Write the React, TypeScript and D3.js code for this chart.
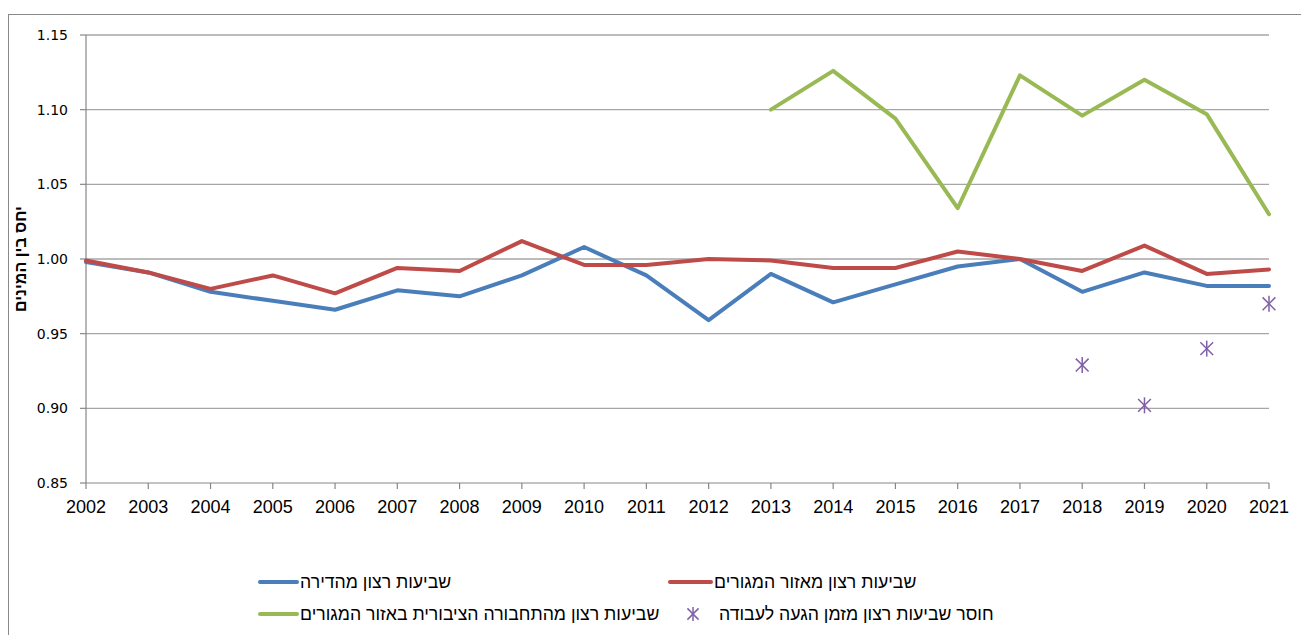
import React from 'react';
import * as d3 from 'd3';

const years = ['2002', '2003', '2004', '2005', '2006', '2007', '2008', '2009', '2010', '2011',
    '2012', '2013', '2014', '2015', '2016', '2017', '2018', '2019', '2020', '2021'];

// שביעות רצון מהדירה
const dwellingValues = [0.998, 0.991, 0.978, 0.972, 0.966, 0.979, 0.975, 0.989, 1.008, 0.989,
    0.959, 0.990, 0.971, 0.983, 0.995, 1.000, 0.978, 0.991, 0.982, 0.982];
// שביעות רצון מאזור המגורים
const areaValues = [0.999, 0.991, 0.980, 0.989, 0.977, 0.994, 0.992, 1.012, 0.996, 0.996,
    1.000, 0.999, 0.994, 0.994, 1.005, 1.000, 0.992, 1.009, 0.990, 0.993];
// שביעות רצון מהתחבורה הציבורית באזור המגורים (2013 onwards)
const transitYears = ['2013', '2014', '2015', '2016', '2017', '2018', '2019', '2020', '2021'];
const transitValues = [1.100, 1.126, 1.094, 1.034, 1.123, 1.096, 1.120, 1.097, 1.030];
// חוסר שביעות רצון מזמן הגעה לעבודה
const commuteYears = ['2018', '2019', '2020', '2021'];
const commuteValues = [0.929, 0.902, 0.940, 0.970];

const yTicks = [0.85, 0.90, 0.95, 1.00, 1.05, 1.10, 1.15];

const W = 1309, H = 635;
const margin = { left: 86, right: 1269, top: 35, bottom: 483 };

const BLUE = '#4a7ebb';
const RED = '#be4b48';
const GREEN = '#98b954';
const PURPLE = '#7f60a8';

const Star = ({ cx, cy, r = 8 }: { cx: number; cy: number; r?: number }) => {
    const d = r * 0.8;
    return (
        <g stroke={PURPLE} strokeWidth={1.5}>
            <line x1={cx - d} y1={cy - d} x2={cx + d} y2={cy + d} />
            <line x1={cx - d} y1={cy + d} x2={cx + d} y2={cy - d} />
            <line x1={cx} y1={cy - r} x2={cx} y2={cy + r} />
        </g>
    );
};

const App = () => {
    const x = d3.scalePoint<string>().domain(years).range([margin.left, margin.right]);
    const y = d3.scaleLinear().domain([0.85, 1.15]).range([margin.bottom, margin.top]);

    const line = d3.line<[string, number]>()
        .x(d => x(d[0]) as number)
        .y(d => y(d[1]));

    const series = [
        { data: years.map((yr, i) => [yr, dwellingValues[i]] as [string, number]), color: BLUE },
        { data: years.map((yr, i) => [yr, areaValues[i]] as [string, number]), color: RED },
        { data: transitYears.map((yr, i) => [yr, transitValues[i]] as [string, number]), color: GREEN },
    ];

    const labelFont = 'Liberation Sans, Arial, sans-serif';

    return (
        <svg width={W - 8} height={H - 8} style={{ display: 'block' }}>
            <g transform="translate(-8,-8)">
                {/* chart frame */}
                <rect x={8.5} y={14.5} width={1300} height={640} fill="#fff" stroke="#898989" strokeWidth={1} />

                {/* gridlines */}
                {yTicks.filter(t => t !== 0.85).map(t => (
                    <line key={t} x1={margin.left} x2={margin.right} y1={y(t)} y2={y(t)}
                        stroke="#a6a6a6" strokeWidth={1.3} />
                ))}

                {/* y axis */}
                <line x1={margin.left} x2={margin.left} y1={margin.top} y2={margin.bottom} stroke="#878787" strokeWidth={1.2} />
                {yTicks.map(t => (
                    <g key={t}>
                        <line x1={80} x2={margin.left} y1={y(t)} y2={y(t)} stroke="#878787" strokeWidth={1.2} />
                        <text x={68} y={y(t)} dy="0.36em" textAnchor="end" fontSize={14}
                            fontFamily="DejaVu Sans, Verdana, sans-serif" fill="#000">{t.toFixed(2)}</text>
                    </g>
                ))}

                {/* x axis */}
                <line x1={margin.left} x2={margin.right} y1={margin.bottom} y2={margin.bottom} stroke="#878787" strokeWidth={1.2} />
                {years.map(yr => (
                    <g key={yr}>
                        <line x1={x(yr)} x2={x(yr)} y1={margin.bottom} y2={489} stroke="#878787" strokeWidth={1.2} />
                        <text x={x(yr)} y={513} textAnchor="middle" fontSize={18} fontFamily={labelFont} fill="#000">{yr}</text>
                    </g>
                ))}

                {/* y axis title */}
                <text transform={`translate(26,${(margin.top + margin.bottom) / 2}) rotate(-90)`} textAnchor="middle"
                    fontSize={16} fontWeight="bold" fontFamily={labelFont} fill="#000">יחס בין המינים</text>

                {/* lines */}
                {series.map((s, i) => (
                    <path key={i} d={line(s.data) || ''} fill="none" stroke={s.color} strokeWidth={4}
                        strokeLinejoin="round" strokeLinecap="round" />
                ))}

                {/* commute markers */}
                {commuteYears.map((yr, i) => (
                    <Star key={yr} cx={x(yr) as number} cy={y(commuteValues[i])} />
                ))}

                {/* legend */}
                <g fontFamily={labelFont} fontSize={17.7} fill="#000">
                    <line x1={260} x2={297} y1={582} y2={582} stroke={BLUE} strokeWidth={4} strokeLinecap="round" />
                    <text x={300} y={582} dy="0.35em">שביעות רצון מהדירה</text>

                    <line x1={670} x2={711} y1={582} y2={582} stroke={RED} strokeWidth={4} strokeLinecap="round" />
                    <text x={714} y={582} dy="0.35em">שביעות רצון מאזור המגורים</text>

                    <line x1={260} x2={297} y1={614} y2={614} stroke={GREEN} strokeWidth={4} strokeLinecap="round" />
                    <text x={300} y={614} dy="0.35em">שביעות רצון מהתחבורה הציבורית באזור המגורים</text>

                    <Star cx={693} cy={614} r={7} />
                    <text x={719} y={614} dy="0.35em">חוסר שביעות רצון מזמן הגעה לעבודה</text>
                </g>
            </g>
        </svg>
    );
};

export default App;
